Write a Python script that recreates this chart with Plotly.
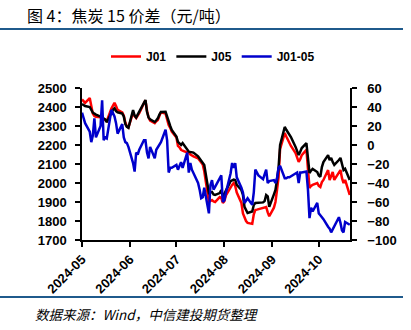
import pandas as pd
import plotly.graph_objects as go

dates = pd.bdate_range("2024-05-01", "2024-10-21")

j01_may = [2440, 2432, 2422, 2447, 2410, 2365, 2352, 2348, 2346, 2340, 2336, 2332, 2326, 2392, 2410, 2422, 2405, 2385, 2372, 2355, 2318, 2298, 2292]
j01_jun = [2370, 2352, 2342, 2355, 2368, 2420, 2435, 2380, 2345, 2328, 2315, 2325, 2332, 2352, 2372, 2365, 2330, 2305, 2290, 2270]
j01_jul = [2240, 2195, 2188, 2175, 2170, 2160, 2158, 2150, 2147, 2140, 2130, 2120, 2108, 2098, 2062, 1900, 1905, 1910, 1903, 1900, 1926, 1922, 1895]
j01_aug = [1905, 1935, 1980, 1990, 2000, 1985, 1950, 1895, 1840, 1815, 1800, 1790, 1785, 1835, 1858, 1860, 1862, 1866, 1870, 1874, 1845, 1825]
j01_sep = [1870, 1900, 1963, 2030, 2180, 2263, 2245, 2225, 2210, 2195, 2158, 2135, 2111, 2125, 2147, 2174, 2068, 1974, 1985, 1990, 2000]
j01_oct = [1985, 1979, 2005, 2016, 2068, 2016, 2040, 2058, 2016, 2050, 2068, 2025, 2000, 2016, 1937]

j05_may = [2416, 2410, 2405, 2400, 2385, 2370, 2365, 2360, 2350, 2345, 2342, 2335, 2320, 2375, 2385, 2393, 2378, 2372, 2365, 2350, 2310, 2295, 2290]
j05_jun = [2384, 2355, 2345, 2360, 2374, 2425, 2437, 2375, 2345, 2335, 2321, 2330, 2340, 2360, 2374, 2375, 2350, 2316, 2300, 2279]
j05_jul = [2245, 2216, 2205, 2200, 2210, 2174, 2165, 2163, 2163, 2160, 2140, 2130, 2121, 2110, 2095, 1947, 1950, 1953, 1940, 1937, 1947, 1963, 1926]
j05_aug = [1940, 1960, 2010, 2016, 2018, 2016, 1990, 1963, 1937, 1874, 1855, 1842, 1850, 1884, 1895, 1895, 1895, 1898, 1905, 1937, 1930, 1874]
j05_sep = [1940, 1963, 2016, 2080, 2200, 2295, 2280, 2268, 2250, 2242, 2190, 2165, 2147, 2165, 2184, 2210, 2137, 2053, 2065, 2074, 2058]
j05_oct = [2040, 2032, 2084, 2110, 2147, 2121, 2132, 2110, 2095, 2121, 2132, 2100, 2068, 2075, 2016]

sp_may = [34, 28, 23, 14, 3, 10, 28, 8, 20, 47, 5, 8, 7, 37, 33, 30, 23, 12, 22, 8, 3, 2, -2]
sp_jun = [-19, -28, -8, -10, -5, 5, 5, -8, -14, -2, -14, -5, -2, 0, 3, 16, 5, -29, -24, -24]
sp_jul = [-21, -26, -22, -18, -24, -8, -29, -19, -26, -30, -40, -47, -56, -55, -45, -72, -42, -37, -47, -44, -34, -32, -60]
sp_aug = [-58, -50, -30, -19, -24, -19, -34, -45, -50, -61, -58, -56, -63, -50, -26, -30, -32, -36, -30, -26, -40, -38]
sp_sep = [-37, -40, -35, -24, -22, -35, -35, -34, -34, -33, -30, -29, -40, -29, -29, -28, -47, -77, -66, -70, -61]
sp_oct = [-72, -74, -76, -78, -86, -88, -92, -89, -85, -76, -82, -90, -92, -81, -84]

j01 = j01_may + j01_jun + j01_jul + j01_aug + j01_sep + j01_oct
j05 = j05_may + j05_jun + j05_jul + j05_aug + j05_sep + j05_oct
spread = sp_may + sp_jun + sp_jul + sp_aug + sp_sep + sp_oct

month_ticks = ["2024-05-01", "2024-06-01", "2024-07-01", "2024-08-01", "2024-09-01", "2024-10-01"]
month_labels = ["2024-05", "2024-06", "2024-07", "2024-08", "2024-09", "2024-10"]

W, H = 411, 330
L, R, T, B = 82, 350, 88, 240


def px(xp):
    return (xp - L) / (R - L)


def py(yp):
    return (B - yp) / (B - T)


fig = go.Figure()
fig.add_trace(go.Scatter(x=dates, y=j01, name="J01", mode="lines",
                         line=dict(color="#FF0000", width=2.5)))
fig.add_trace(go.Scatter(x=dates, y=j05, name="J05", mode="lines",
                         line=dict(color="#000000", width=2.5)))
fig.add_trace(go.Scatter(x=dates, y=spread, name="J01-05", mode="lines", yaxis="y2",
                         line=dict(color="#0000CC", width=2.5)))

tickfont = dict(family="Liberation Sans", size=13, color="#000000", weight="bold")

fig.update_layout(
    width=W, height=H,
    margin=dict(l=L, r=W - R, t=T, b=H - B, pad=0),
    paper_bgcolor="white", plot_bgcolor="white",
    showlegend=True,
    legend=dict(orientation="h", x=px(106), y=py(42), xanchor="left", yanchor="top",
                font=dict(family="Liberation Sans", size=12, color="#000000", weight="bold"),
                bgcolor="rgba(0,0,0,0)", itemwidth=30, tracegroupgap=0),
    xaxis=dict(type="date", range=["2024-05-01", "2024-10-21 04:00"],
               tickvals=month_ticks, ticktext=month_labels, tickangle=-45,
               ticks="outside", ticklen=5, tickwidth=1.5, tickcolor="#000000",
               showline=True, linecolor="#000000", linewidth=1.5,
               showgrid=False, zeroline=False, tickfont=tickfont),
    yaxis=dict(range=[1700, 2500], dtick=100, ticks="outside", ticklen=5,
               tickwidth=1.5, tickcolor="#000000", showline=True, linecolor="#000000",
               linewidth=1.5, showgrid=False, zeroline=False, tickfont=tickfont,
               ticklabelstandoff=6),
    yaxis2=dict(range=[-100, 60], dtick=20, overlaying="y", side="right",
                ticks="outside", ticklen=5, tickwidth=1.5, tickcolor="#000000",
                showline=True, linecolor="#000000", linewidth=1.5, showgrid=False,
                zeroline=False, tickfont=tickfont, ticklabelstandoff=8),
    shapes=[
        dict(type="line", xref="paper", yref="paper", x0=px(0), x1=px(403),
             y0=py(29), y1=py(29), line=dict(color="#1F5A8C", width=2)),
        dict(type="line", xref="paper", yref="paper", x0=px(0), x1=px(403),
             y0=py(297), y1=py(297), line=dict(color="#1F5A8C", width=2)),
    ],
    annotations=[
        dict(text="图 4：焦炭 15 价差（元/吨）", xref="paper", yref="paper",
             x=px(25), y=py(15), xanchor="left", yanchor="middle", showarrow=False,
             font=dict(family="Noto Sans CJK SC", size=16, color="#000000")),
        dict(text="<i>数据来源：Wind，中信建投期货整理</i>", xref="paper", yref="paper",
             x=px(33), y=py(314), xanchor="left", yanchor="middle", showarrow=False,
             font=dict(family="Noto Sans CJK SC", size=13.5, color="#000000")),
    ],
)

fig.write_html("out.html")
